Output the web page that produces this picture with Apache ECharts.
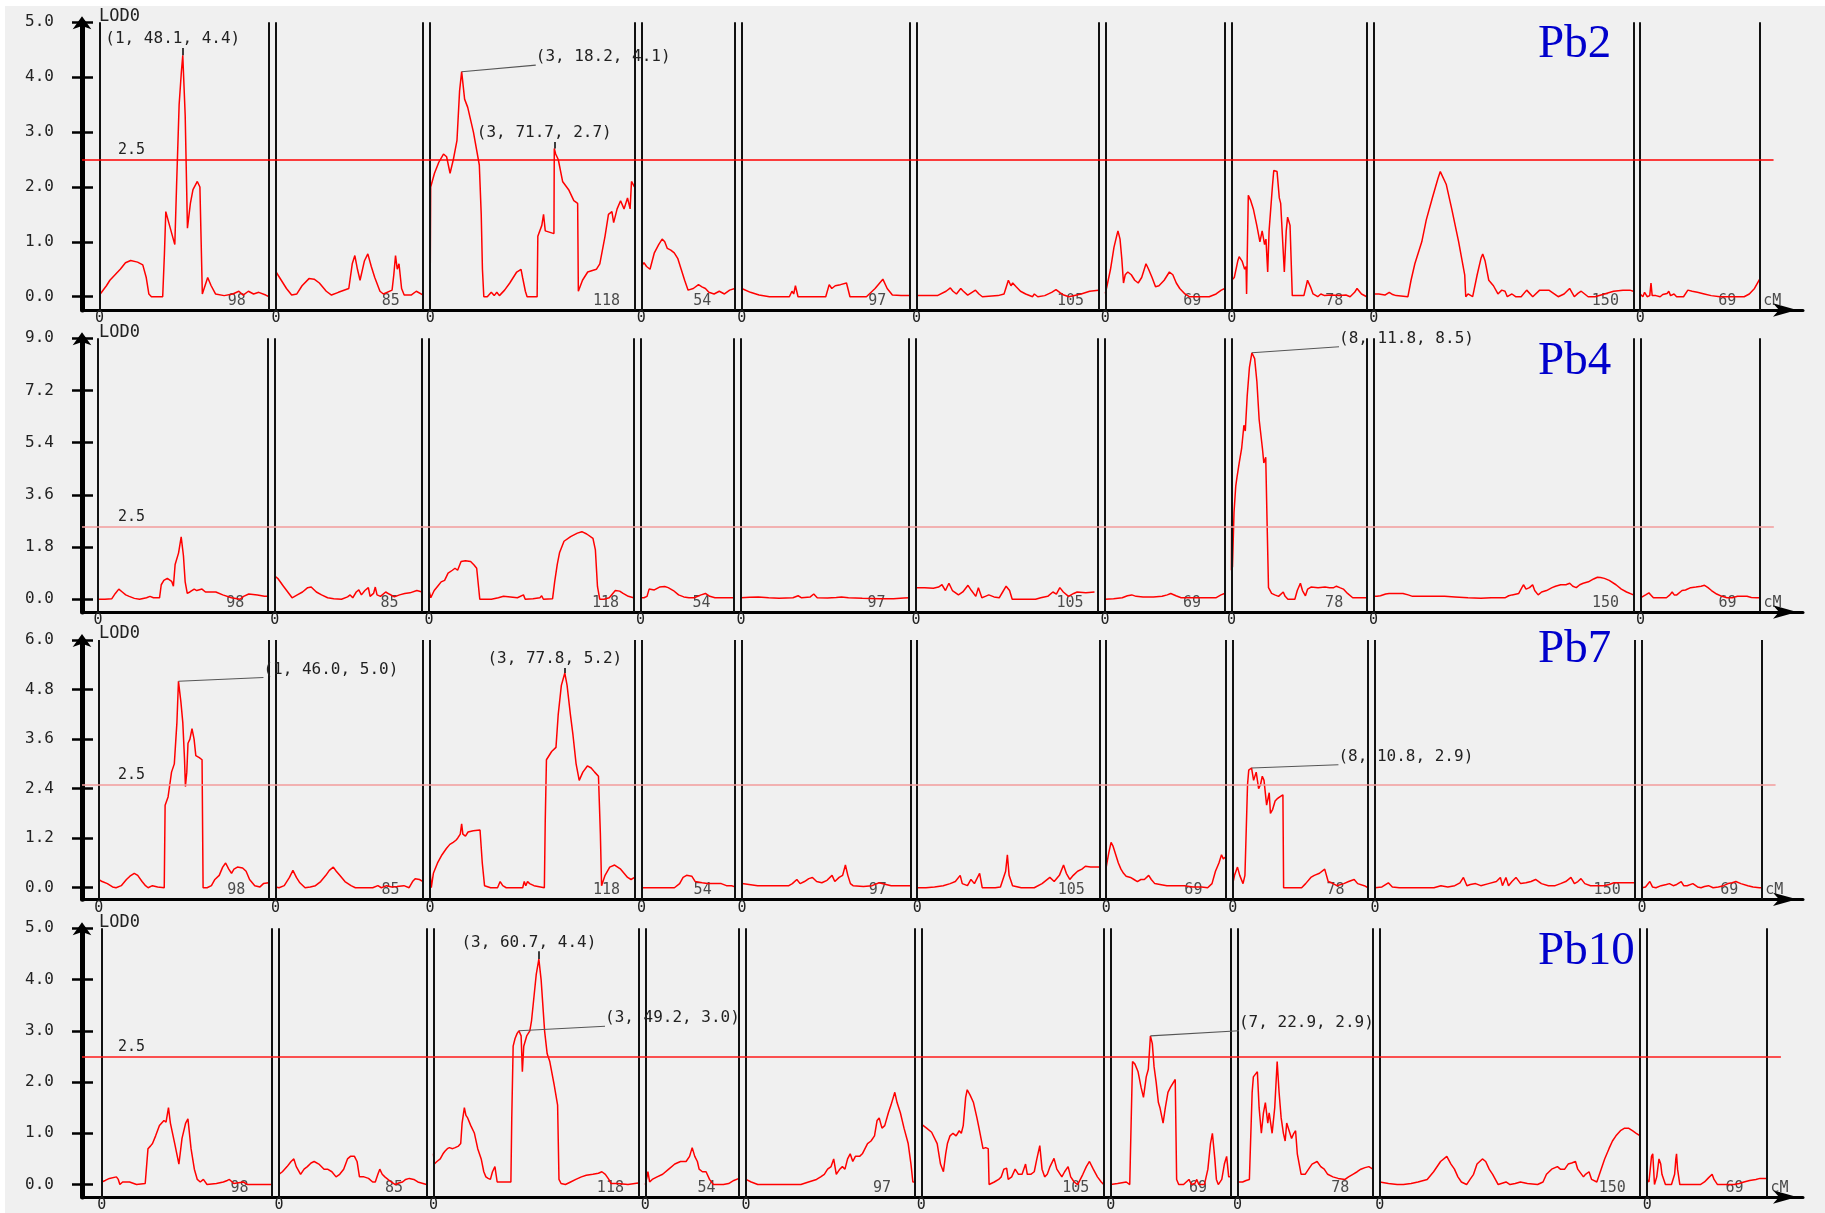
<!DOCTYPE html>
<html><head><meta charset="utf-8">
<script src="https://cdn.jsdelivr.net/npm/echarts@6/dist/echarts.min.js"></script>
<style>html,body{margin:0;padding:0;background:#fff}#c{width:1825px;height:1213px}</style>
</head><body><div id="c"></div>
<script>
// ---------------- DATA ----------------
const TRAITS = ['Pb2', 'Pb4', 'Pb7', 'Pb10'];
const CHR_LEN = [98, 85, 118, 54, 97, 105, 69, 78, 150, 69];
const Y_TICKS = [
  [0, 1, 2, 3, 4, 5],
  [0, 1.8, 3.6, 5.4, 7.2, 9],
  [0, 1.2, 2.4, 3.6, 4.8, 6],
  [0, 1, 2, 3, 4, 5]
];
const THRESHOLD = 2.5;

// LOD profiles: one array of [cM, LOD] per chromosome
const PB2_LOD = [
  [[0,0.03],[4,0.2],[6,0.3],[9,0.4],[12,0.5],[15,0.62],[18,0.66],[22,0.63],[25,0.58],[27,0.35],[28.5,0.05],[30,0],[36.5,0],[37.5,0.78],[38.3,1.55],[40,1.35],[43.5,0.95],[44.5,2.0],[46,3.5],[47.3,4.1],[48.1,4.4],[49.5,3.3],[50.8,1.25],[52.5,1.7],[54,1.95],[56.5,2.1],[58,2.0],[59.4,0.05],[60.5,0.05],[62.5,0.35],[64.5,0.2],[67,0.05],[72,0.02],[77,0.05],[80.5,0.1],[83,0.03],[86,0.1],[89,0.05],[92,0.08],[96,0.03],[98,0.0]],
  [[0,0.45],[3,0.3],[6,0.15],[9,0.03],[12,0.05],[15,0.2],[19,0.33],[22,0.32],[25,0.25],[29,0.1],[32,0.03],[36,0.08],[42,0.15],[44,0.6],[45.5,0.75],[47,0.5],[48.5,0.3],[51,0.65],[53,0.78],[55,0.55],[57,0.35],[60,0.1],[62,0.05],[67,0.12],[68,0.4],[69,0.75],[70,0.5],[71,0.6],[72.5,0.15],[74,0.03],[78,0.03],[81,0.1],[85,0.03]],
  [[0,0.1],[0.3,2.0],[2.5,2.25],[5,2.45],[7.7,2.6],[9.5,2.55],[11.5,2.25],[13.4,2.5],[15.5,2.85],[17,3.75],[18.2,4.1],[19.9,3.6],[21.7,3.45],[25,3.0],[28.4,2.4],[29.5,1.5],[30.2,0.5],[31,0.0],[33,0.0],[35.3,0.08],[37,0.02],[38.5,0.08],[40,0.02],[43,0.12],[46,0.25],[50,0.45],[52.5,0.5],[53.4,0.35],[55,0.1],[56,0.0],[61.8,0.0],[62.2,1.1],[64.5,1.3],[65.5,1.5],[66.5,1.2],[71.5,1.15],[71.7,2.7],[72.5,2.6],[74,2.5],[76.5,2.1],[80,1.95],[83,1.75],[85.2,1.7],[85.6,0.1],[88,0.3],[91,0.45],[96,0.5],[98,0.6],[101,1.1],[103,1.5],[105,1.55],[106,1.35],[108,1.6],[110,1.75],[112,1.6],[114,1.8],[115.5,1.6],[116.3,2.1],[118,2.0]],
  [[0,0.55],[1.5,0.62],[3,0.55],[5,0.5],[7.5,0.8],[10,0.95],[12,1.05],[13.5,1.0],[15,0.88],[17,0.85],[19,0.8],[21,0.7],[23,0.5],[25,0.3],[27,0.12],[30,0.15],[33,0.22],[35,0.18],[37,0.15],[39,0.08],[42,0.05],[45,0.1],[48,0.05],[51,0.12],[54,0.15]],
  [[0,0.15],[5,0.08],[10,0.03],[16,0.0],[27.5,0.0],[29,0.1],[30,0.05],[31,0.2],[32.5,0.0],[48.5,0.0],[50.5,0.22],[52,0.15],[54,0.2],[57,0.22],[60.5,0.25],[62.5,0.0],[72,0.0],[77,0.15],[81.5,0.32],[84,0.15],[87,0.03],[92,0.02],[97,0.02]],
  [[0,0.02],[12,0.02],[17,0.1],[19.5,0.16],[21,0.1],[23,0.05],[25.5,0.15],[27,0.1],[29.5,0.03],[32,0.08],[34,0.12],[36,0.05],[38,0.0],[47,0.02],[50.5,0.05],[52,0.2],[53,0.3],[54.5,0.2],[55.5,0.25],[57.5,0.18],[60,0.1],[63,0.05],[67,0.0],[68,0.05],[70,0.0],[74,0.02],[78,0.08],[80.5,0.13],[83,0.07],[85,0.03],[88,0.0],[95,0.05],[100,0.1],[105,0.12]],
  [[0,0.06],[1,0.2],[3,0.5],[5,0.9],[6.5,1.1],[7.3,1.2],[8.5,1.05],[9.5,0.7],[10.5,0.25],[11.5,0.4],[13,0.45],[15,0.4],[17,0.3],[19,0.25],[21,0.35],[23.5,0.6],[25,0.5],[27,0.35],[29,0.18],[31,0.2],[34,0.3],[37,0.45],[39,0.4],[41,0.25],[43,0.15],[46,0.05],[48.5,0.0],[60,0.0],[64,0.05],[67,0.12],[69,0.15]],
  [[0,0.3],[1.5,0.35],[3.5,0.65],[4.3,0.73],[6,0.65],[7.5,0.5],[8.3,0.55],[8.6,0.05],[9.6,1.85],[11,1.75],[12.5,1.6],[14.5,1.3],[16.3,1.0],[17.6,1.2],[19,0.95],[19.8,1.05],[20.8,0.45],[21.6,1.2],[23.5,2.0],[24.3,2.3],[26.2,2.28],[27.5,1.8],[28.3,1.7],[30.4,0.45],[31.5,1.2],[32.3,1.45],[33.7,1.3],[35,0.02],[41.7,0.02],[43.8,0.3],[45.5,0.18],[47,0.05],[49.7,0.0],[51.5,0.05],[53.7,0.02],[57.7,0.03],[62,0.02],[66,0.03],[68.4,0.0],[71,0.08],[72.4,0.15],[75,0.05],[78,0.0]],
  [[0,0.05],[3,0.05],[6.5,0.03],[9,0.08],[11,0.04],[13,0.02],[19.8,0.0],[21.6,0.3],[23.8,0.6],[27.8,1.0],[30.4,1.4],[33.9,1.8],[37.1,2.15],[38.5,2.28],[41.9,2.05],[45.1,1.6],[49.1,1.0],[52.6,0.4],[53.2,0.0],[54.5,0.05],[57.2,0.0],[59.8,0.4],[62,0.7],[63,0.78],[64.4,0.65],[66.5,0.3],[69.2,0.2],[71.8,0.05],[74,0.12],[75.9,0.1],[77.2,0.0],[79.9,0.05],[82,0.0],[85.2,0.0],[88.4,0.12],[91.9,0.0],[95.9,0.12],[101.2,0.12],[106.6,0.0],[110,0.05],[113.2,0.15],[115.9,0.0],[118,0.06],[119.9,0.1],[123.9,0.0],[127.9,0.0],[133.3,0.05],[138.6,0.1],[144,0.12],[148,0.12],[150,0.1]],
  [[0,0.05],[1.5,0.0],[2.5,0.08],[4,0.0],[5.5,0.02],[6.2,0.25],[6.9,0.02],[8,0.05],[9,0.02],[11.5,0.0],[13,0.04],[15.5,0.06],[16.5,0.1],[17.5,0.02],[19.5,0.05],[21,0.0],[25,0.0],[27.5,0.12],[30,0.1],[33,0.08],[37,0.05],[41,0.02],[46,0.0],[60,0.0],[63,0.05],[66,0.15],[69,0.32]]
];

const PB4_LOD = [
  [[0,0.0],[4,0.0],[8,0.02],[10,0.2],[12,0.35],[14,0.25],[16,0.15],[18,0.1],[21,0.03],[24,0.0],[28,0.05],[30,0.1],[32,0.05],[35.5,0.05],[36.5,0.5],[38,0.65],[40,0.72],[42.5,0.62],[43.5,0.45],[44.5,1.2],[46.5,1.6],[48,2.15],[49.3,1.5],[50.3,0.6],[51.5,0.2],[53,0.25],[55.5,0.35],[57,0.3],[60,0.35],[62,0.25],[65,0.25],[68,0.25],[72,0.15],[77,0.05],[82,0.0],[84,0.1],[87,0.18],[92,0.15],[96,0.1],[98,0.1]],
  [[0,0.8],[2,0.7],[5,0.45],[7.5,0.25],[10,0.05],[13,0.15],[16,0.25],[19,0.4],[21,0.42],[24,0.25],[27,0.15],[30.5,0.05],[34,0.02],[38.5,0.0],[42,0.08],[43.5,0.15],[45,0.05],[47,0.25],[48.5,0.32],[50,0.15],[52,0.3],[54,0.4],[55,0.1],[57,0.2],[58,0.42],[59,0.15],[61,0.1],[64,0.25],[66,0.18],[69,0.08],[72,0.15],[75,0.2],[78,0.22],[82,0.3],[85,0.25]],
  [[0,0.3],[1,0.05],[3,0.3],[5,0.45],[7,0.6],[9,0.65],[11,0.9],[12,0.85],[13.5,1.0],[15,1.07],[16.5,1.0],[18.5,1.3],[21,1.33],[24,1.3],[26,1.18],[27.5,1.07],[29.3,0.0],[36,0.0],[40,0.05],[43,0.1],[47,0.08],[51,0.05],[54.5,0.15],[55.5,0.0],[60,0.02],[64,0.05],[65,0.12],[66,0.0],[71.3,0.02],[72.5,0.6],[74,1.2],[75.3,1.6],[77.9,2.0],[81.7,2.16],[85.6,2.28],[88.2,2.33],[91,2.25],[94.6,2.1],[96,1.7],[97.2,0.44],[98.5,0.0],[101,0.0],[104,0.05],[107.5,0.3],[110,0.28],[112,0.2],[115,0.1],[118,0.05]],
  [[0,0.05],[2,0.05],[3.8,0.1],[5,0.35],[6,0.3],[8,0.32],[11,0.42],[14,0.44],[16,0.4],[19,0.3],[22,0.15],[25,0.08],[28,0.05],[31,0.05],[35,0.15],[37.5,0.2],[40,0.1],[43,0.05],[47,0.05],[51,0.05],[54,0.05]],
  [[0,0.05],[5,0.07],[10,0.08],[16,0.05],[22,0.03],[30,0.05],[33,0.12],[35,0.05],[40,0.08],[42,0.18],[44,0.05],[50,0.04],[55,0.06],[58,0.08],[62,0.05],[70,0.03],[80,0.02],[88,0.02],[94,0.04],[97,0.05]],
  [[0,0.4],[5,0.4],[10,0.38],[13,0.42],[15,0.5],[17,0.3],[19,0.55],[21,0.3],[24.5,0.15],[27,0.25],[30,0.48],[32,0.3],[34.5,0.1],[36,0.4],[38,0.05],[40,0.1],[42,0.15],[45,0.08],[48,0.05],[50,0.25],[52,0.45],[54,0.3],[55.5,0.0],[69,0.0],[72,0.05],[76,0.1],[79,0.25],[81,0.18],[83,0.4],[85,0.25],[88,0.1],[91,0.2],[93,0.25],[98,0.22],[103,0.25]],
  [[0,0.0],[5,0.02],[10,0.05],[13,0.12],[15.5,0.15],[18,0.1],[22,0.08],[28,0.08],[33,0.1],[36,0.15],[38,0.2],[41,0.12],[44,0.05],[50,0.05],[55,0.05],[60,0.05],[64,0.05],[67,0.15],[69,0.2]],
  [[0,1.0],[0.3,4.2],[0.6,1.1],[1.5,3.0],[2.5,3.9],[3.2,4.2],[4.5,4.7],[5.9,5.2],[7.2,6.0],[8,5.8],[9.1,7.0],[10.4,8.0],[11.8,8.5],[13.4,8.3],[14.7,7.5],[16,6.2],[17.9,5.2],[18.7,4.7],[19.8,4.9],[20.6,2.6],[21.4,0.4],[23.2,0.2],[25,0.15],[27.2,0.1],[29.9,0.25],[31,0.1],[32.6,0.0],[36.6,0.0],[38,0.3],[39.8,0.55],[41,0.3],[42.7,0.12],[44,0.35],[45.9,0.42],[50,0.4],[54,0.42],[56.6,0.4],[59,0.4],[60.6,0.45],[62.5,0.4],[64.6,0.35],[67,0.2],[70,0.05],[74,0.05],[78,0.05]],
  [[0,0.1],[2,0.1],[4,0.12],[7,0.18],[9,0.2],[13,0.2],[17,0.2],[20,0.15],[22.5,0.1],[30,0.1],[41,0.1],[47,0.08],[54.5,0.05],[62,0.03],[67.8,0.05],[72,0.05],[75.8,0.05],[78,0.12],[80,0.15],[83.8,0.2],[86.5,0.5],[88,0.35],[90,0.4],[91.8,0.5],[93,0.3],[95,0.15],[97,0.25],[99.8,0.3],[103,0.4],[105,0.45],[108,0.5],[111,0.5],[113.2,0.55],[115,0.45],[117,0.4],[119,0.5],[121,0.55],[124,0.6],[127,0.7],[129.2,0.76],[131,0.75],[133.2,0.72],[136,0.65],[139.9,0.5],[143,0.35],[146,0.25],[150,0.15]],
  [[0,0.05],[1,0.05],[3,0.15],[4.9,0.22],[6,0.15],[7.5,0.05],[11,0.05],[15,0.05],[17,0.15],[18.3,0.25],[19.5,0.15],[21,0.15],[24,0.3],[26,0.32],[29,0.4],[32,0.42],[35,0.45],[37,0.48],[39,0.4],[41,0.3],[44,0.18],[47,0.1],[50,0.05],[53,0.05],[56,0.1],[59,0.1],[61.5,0.1],[64,0.06],[67,0.05],[69,0.05]]
];

const PB7_LOD = [
  [[0,0.2],[2,0.15],[5,0.1],[8,0.02],[10,0.0],[13,0.05],[16,0.2],[18,0.28],[20.5,0.35],[22.5,0.3],[25,0.15],[27,0.05],[28.5,0.0],[31,0.05],[34,0.02],[37.8,0.0],[38.3,2.0],[40,2.2],[41,2.5],[42,2.8],[43.6,3.0],[44.5,3.6],[45.1,4.0],[46,5.0],[47.4,4.5],[48.5,4.0],[49.5,3.1],[50,2.45],[50.8,2.8],[51.5,3.5],[52.6,3.6],[53.8,3.85],[55,3.6],[56,3.2],[58,3.15],[59.6,3.1],[60.2,0.0],[62.5,0.0],[65,0.05],[67,0.2],[69.5,0.3],[71.5,0.5],[73.2,0.6],[75,0.45],[76.6,0.35],[78,0.45],[80,0.5],[83,0.48],[85,0.4],[87,0.2],[90,0.05],[93,0.02],[95,0.1],[98,0.12]],
  [[0,0.02],[2,0.0],[5,0.05],[8,0.25],[10,0.42],[12,0.25],[14,0.12],[17,0.0],[20,0.02],[23,0.05],[26,0.15],[29,0.3],[31,0.42],[33.3,0.5],[35,0.4],[37,0.3],[40,0.15],[43.5,0.05],[46,0.0],[56,0.0],[59,0.05],[61,0.0],[64,0.05],[67,0.02],[70,0.03],[74,0.05],[77,0.0],[79,0.15],[80.5,0.22],[83,0.2],[85,0.15]],
  [[0,0.45],[0.8,0.0],[2,0.35],[4.4,0.6],[7,0.8],[9.5,0.95],[11.5,1.05],[13.4,1.1],[15,1.15],[16,1.2],[17.5,1.3],[18.3,1.55],[19,1.3],[20.5,1.25],[22,1.35],[25,1.38],[28.9,1.4],[30.2,0.6],[31.5,0.05],[35,0.0],[39,0.0],[40.5,0.15],[42,0.05],[44,0.0],[53.5,0.0],[54.4,0.15],[55.3,0.05],[56.3,0.15],[57.5,0.1],[60,0.05],[66,0.0],[66.5,1.6],[67.2,3.1],[70.2,3.3],[72.7,3.4],[74,4.2],[75.8,4.9],[77.8,5.2],[79.1,4.9],[81,4.2],[82.5,3.7],[84.3,3.0],[86.1,2.6],[88.2,2.8],[90.8,2.95],[93,2.9],[95,2.8],[97.2,2.7],[98.3,1.3],[99,0.05],[101,0.3],[103.7,0.5],[106.5,0.55],[110,0.45],[114,0.25],[116,0.2],[118,0.25]],
  [[0,0.0],[5,0.0],[10,0.0],[15,0.0],[19,0.0],[22,0.1],[24,0.25],[26,0.3],[29,0.28],[31,0.15],[35,0.12],[38,0.1],[42,0.1],[46,0.1],[49,0.05],[52,0.05],[54,0.02]],
  [[0,0.1],[4,0.08],[9,0.05],[18,0.05],[27,0.05],[29,0.1],[31.6,0.2],[33.5,0.1],[36,0.15],[38.5,0.22],[40.6,0.25],[43,0.15],[46,0.12],[49,0.18],[51.9,0.3],[53.5,0.15],[56,0.25],[58,0.3],[59.6,0.55],[61,0.3],[62.5,0.1],[64,0.05],[70,0.03],[75,0.05],[79,0.12],[83,0.08],[86,0.05],[91,0.05],[97,0.05]],
  [[0,0.0],[5,0.0],[10,0.02],[15,0.05],[19,0.1],[22,0.15],[24.8,0.3],[26,0.1],[29,0.05],[31,0.2],[33,0.1],[36,0.35],[37.5,0.0],[45,0.0],[48,0.02],[51,0.4],[52,0.8],[53,0.3],[55,0.05],[60,0.0],[67.5,0.0],[72,0.1],[76.5,0.25],[79,0.15],[82,0.3],[84.4,0.55],[86,0.35],[88,0.2],[90,0.3],[92.5,0.4],[95,0.45],[97,0.52],[100,0.5],[103,0.5],[105,0.5]],
  [[0,0.5],[1.5,0.85],[2.8,1.1],[4,1.0],[5.5,0.8],[7,0.6],[8.5,0.45],[10,0.35],[11.5,0.28],[14,0.25],[16,0.2],[18,0.15],[20,0.2],[22,0.2],[24.5,0.3],[26,0.2],[28,0.1],[31,0.08],[35,0.05],[40,0.05],[45,0.05],[50,0.02],[55,0.02],[58.5,0.0],[61,0.1],[63,0.4],[65,0.6],[66.5,0.8],[67.5,0.7],[69,0.75]],
  [[0,0.1],[1,0.3],[2.7,0.5],[4,0.3],[5.9,0.1],[7,0.3],[8.5,2.5],[9.2,2.85],[10.8,2.9],[12,2.6],[13.5,2.8],[14.9,2.4],[16,2.5],[17,2.7],[18,2.6],[19.5,2.0],[21,2.3],[21.7,1.8],[23,1.9],[24.4,2.1],[25.5,2.15],[27.1,2.2],[28.9,2.25],[29.3,0.0],[36,0.0],[39.7,0.0],[42,0.1],[45,0.25],[47,0.3],[50,0.35],[53,0.45],[55,0.15],[57,0.12],[60,0.05],[64,0.1],[66.8,0.15],[70,0.2],[72,0.1],[75.8,0.05],[78,0.0]],
  [[0,0.0],[4,0.02],[7.7,0.12],[10,0.02],[14,0.0],[20,0.0],[30,0.0],[34,0.0],[38,0.05],[42,0.02],[46,0.05],[49,0.12],[51,0.25],[53,0.05],[55,0.08],[58,0.1],[61,0.05],[65.5,0.1],[70,0.15],[72.3,0.25],[73.5,0.05],[75.5,0.25],[77,0.05],[79,0.15],[81.3,0.25],[84,0.1],[87,0.12],[90,0.15],[92.6,0.2],[96,0.1],[100,0.05],[103.9,0.05],[107,0.1],[110,0.15],[113,0.25],[115,0.1],[117,0.15],[118.8,0.22],[121,0.1],[124.3,0.05],[128,0.05],[132,0.05],[135,0.08],[137.8,0.12],[142,0.12],[146,0.12],[150,0.12]],
  [[0,0.0],[2,0.02],[4.5,0.15],[6,0.02],[8,0.0],[11,0.05],[14,0.08],[15.8,0.1],[18,0.05],[20,0.08],[22.6,0.15],[24,0.05],[26,0.05],[29.3,0.1],[32,0.02],[34,0.0],[36,0.03],[38.3,0.05],[41,0.0],[44,0.02],[47,0.05],[49.6,0.1],[52,0.12],[54.1,0.15],[57,0.1],[61,0.05],[64,0.02],[67.7,0.0],[69,0.0]]
];

const PB10_LOD = [
  [[0,0.05],[2,0.08],[4.4,0.12],[8.4,0.15],[9.5,0.1],[10.4,0.0],[12,0.05],[16,0.05],[20,0.0],[25,0.02],[25.8,0.05],[26.6,0.7],[28,0.75],[29.2,0.8],[31,0.95],[33.2,1.15],[35.8,1.25],[37,1.22],[38.4,1.5],[39.5,1.2],[42,0.8],[44.4,0.4],[46.2,0.9],[48.3,1.2],[49.6,1.28],[51.4,0.7],[53.3,0.3],[55,0.1],[56.7,0.05],[58.5,0.1],[60.6,0.0],[66,0.02],[70,0.05],[72.3,0.08],[73.5,0.1],[76,0.02],[81.5,0.05],[84,0.0],[90,0.0],[98,0.0]],
  [[0,0.2],[2,0.25],[4.7,0.35],[7,0.45],[8.6,0.5],[10,0.35],[12.5,0.2],[14.5,0.3],[16.4,0.35],[18.5,0.42],[20.3,0.45],[23,0.4],[26,0.3],[28,0.3],[30.5,0.25],[32.9,0.15],[35,0.2],[37.3,0.3],[39.5,0.5],[41.2,0.55],[43.5,0.55],[45,0.45],[46.4,0.15],[49,0.15],[51.6,0.12],[54,0.05],[55.5,0.05],[57,0.2],[58.1,0.3],[59.5,0.2],[61,0.15],[64.7,0.05],[67,0.0],[69,0.03],[71.2,0.05],[73,0.1],[75.1,0.12],[77.7,0.1],[80,0.05],[82,0.03],[85,0.0]],
  [[0,0.6],[0.5,0.4],[2,0.45],[3.9,0.5],[5.5,0.6],[6.6,0.65],[8,0.7],[9.2,0.72],[11,0.7],[12.5,0.72],[14.4,0.75],[15.7,0.8],[16.5,1.2],[17.8,1.5],[18.7,1.35],[19.7,1.3],[21.5,1.15],[23.6,1.0],[25.5,0.7],[27.5,0.5],[29,0.25],[30.2,0.15],[31.5,0.12],[32.8,0.1],[34,0.25],[35.4,0.35],[36.7,0.05],[40,0.05],[44.6,0.05],[45.1,1.3],[45.9,2.7],[47,2.85],[48.2,2.95],[49.2,3.0],[50.5,2.9],[51.2,2.2],[52,2.7],[53.7,2.9],[55.5,3.0],[56.5,3.2],[57.7,3.6],[59.2,4.1],[60.7,4.4],[62,4.0],[63,3.5],[64,3.0],[65.5,2.55],[67,2.4],[69.5,1.95],[71.5,1.55],[72.3,0.1],[73.5,0.02],[76,0.0],[79,0.05],[82,0.1],[85.2,0.15],[88,0.18],[91.8,0.2],[95,0.22],[97,0.25],[99,0.2],[101,0.1],[102.3,0.02],[106,0.02],[112,0.0],[118,0.03]],
  [[0,0.0],[1,0.15],[1.5,0.25],[2.5,0.05],[4,0.1],[6.8,0.15],[10,0.2],[13.5,0.3],[17,0.4],[20.3,0.45],[23.5,0.45],[25.5,0.55],[27,0.72],[28.5,0.55],[30,0.45],[31,0.3],[32.9,0.25],[35,0.25],[37,0.1],[39.2,0.0],[45,0.0],[48,0.02],[51,0.08],[54,0.12]],
  [[0,0.1],[3,0.05],[6.8,0.0],[15,0.0],[25,0.0],[31.6,0.0],[36,0.05],[40.6,0.1],[43,0.15],[45.1,0.2],[47,0.3],[49,0.35],[50.5,0.5],[52,0.2],[54,0.3],[55.5,0.35],[57,0.3],[58.5,0.5],[60,0.6],[61.5,0.45],[63,0.55],[65.4,0.55],[67,0.6],[70,0.8],[72,0.85],[74,0.95],[75.5,1.25],[76.7,1.3],[78.3,1.1],[79.9,1.15],[82,1.4],[83.5,1.55],[85.7,1.8],[87,1.6],[88.9,1.4],[91,1.1],[93.4,0.8],[95,0.4],[96.1,0.05],[97,0.05]],
  [[0,1.18],[3,1.1],[5.9,1.02],[9.1,0.8],[11,0.4],[12.7,0.25],[14,0.6],[15,0.8],[16.5,0.95],[18.2,1.0],[20,0.95],[21.8,1.05],[23,1.0],[24.1,1.15],[25.5,1.7],[26.4,1.85],[28,1.75],[30,1.6],[32,1.3],[33.2,1.1],[35.5,0.7],[37,0.72],[38.5,0.7],[39,0.0],[42,0.05],[44.5,0.1],[46,0.15],[47.5,0.3],[49.1,0.32],[50,0.1],[52,0.15],[54,0.3],[55.9,0.2],[58,0.2],[60,0.4],[61,0.2],[63,0.2],[65,0.25],[66.5,0.5],[68.2,0.76],[69.5,0.3],[71,0.15],[72.5,0.2],[74.1,0.35],[76.4,0.51],[78,0.3],[80.9,0.15],[82.5,0.25],[84.5,0.35],[86,0.15],[88,0.05],[90,0.0],[93,0.2],[95,0.35],[96.8,0.45],[99,0.3],[101.4,0.15],[103.6,0.05],[105,0.0]],
  [[0,0.0],[4,0.02],[9,0.05],[11,0.0],[12,0.0],[12.6,2.4],[14,2.35],[15.8,2.2],[17.5,1.9],[18.9,1.7],[20.5,2.1],[21.7,2.25],[22.9,2.9],[24,2.75],[25,2.3],[26.2,2.0],[27.5,1.6],[28.4,1.5],[30.2,1.2],[31.5,1.5],[33,1.8],[34.5,1.9],[37.2,2.05],[38,0.1],[39.2,0.0],[42,0.0],[45.1,0.1],[46.5,0.0],[48.5,0.02],[49.6,0.1],[50.8,0.0],[54,0.0],[56,0.3],[57.5,0.8],[58.6,1.0],[60,0.5],[60.9,0.1],[62,0.0],[64,0.1],[65.5,0.4],[66.8,0.55],[68,0.15],[69,0.15]],
  [[0,0.05],[3,0.05],[5,0.08],[6.9,0.1],[8.5,1.8],[9.2,2.1],[10.3,2.15],[11.5,2.2],[12.5,1.5],[13.8,1.0],[15,1.4],[16.1,1.6],[17.5,1.2],[18.3,1.4],[20,1.0],[21.5,1.5],[22.9,2.4],[24,1.8],[25.2,1.3],[26.5,1.0],[27.5,0.85],[28.4,1.2],[29.8,1.05],[31.2,0.9],[32.5,1.0],[33.5,1.05],[34.5,0.6],[36.7,0.2],[39,0.2],[41,0.3],[43,0.4],[45.9,0.45],[48,0.35],[50,0.3],[52,0.2],[55,0.15],[58,0.12],[62,0.1],[64,0.15],[66.5,0.2],[69,0.25],[71.1,0.3],[73.5,0.33],[75.7,0.35],[78,0.3]],
  [[0,0.05],[5,0.02],[10,0.0],[13.6,0.0],[18,0.02],[22,0.05],[27.3,0.1],[31,0.25],[35,0.45],[38.6,0.55],[41,0.4],[43,0.3],[45,0.15],[47,0.05],[50,0.0],[52,0.1],[54,0.2],[56,0.4],[59.1,0.5],[61,0.45],[63,0.3],[65,0.2],[68.2,0.0],[70,0.02],[72.7,0.05],[75,0.0],[78,0.02],[81,0.05],[85,0.02],[90.9,0.0],[94,0.05],[96,0.2],[99,0.3],[102.3,0.35],[104,0.3],[106.5,0.3],[108.5,0.4],[110.5,0.42],[112.7,0.45],[114,0.3],[117.3,0.15],[118.5,0.2],[120.5,0.25],[122,0.1],[125,0.05],[127,0.25],[129.5,0.5],[132,0.7],[134,0.85],[136,0.95],[138.6,1.05],[141,1.1],[143.2,1.1],[145.5,1.05],[147.7,1.0],[150,0.95]],
  [[0,0.1],[1,0.05],[2.5,0.55],[3.2,0.6],[4.2,0.0],[5.5,0.15],[6.8,0.5],[7.8,0.4],[8.5,0.2],[10.5,0.0],[14,0.0],[15.8,0.2],[16.5,0.5],[16.9,0.6],[17.5,0.3],[18.8,0.0],[25,0.0],[30.6,0.0],[33,0.05],[35,0.12],[37.4,0.2],[38.5,0.1],[40.5,0.0],[45,0.0],[50,0.0],[53,0.02],[55.7,0.05],[59,0.08],[62.6,0.1],[65,0.12],[67.1,0.12],[69,0.12]]
];
const LOD_DATA = [PB2_LOD, PB4_LOD, PB7_LOD, PB10_LOD];

// Annotated peaks: [trait index, chromosome, position cM, LOD]
const PEAKS = [
  [0, 1, 48.1, 4.4], [0, 3, 18.2, 4.1], [0, 3, 71.7, 2.7],
  [1, 8, 11.8, 8.5],
  [2, 1, 46.0, 5.0], [2, 3, 77.8, 5.2], [2, 8, 10.8, 2.9],
  [3, 3, 60.7, 4.4], [3, 3, 49.2, 3.0], [3, 7, 22.9, 2.9]
];

// ---------------- LAYOUT (positions / styles) ----------------
const GAP_CM = 4;
const GRID_LEFT = 82, AXIS_END_PX = 1803;
const PANEL_TOP = [22.3, 338.3, 640, 928.3];
const PANEL_BOTTOM = [310, 612, 899.3, 1202.7];
const Y_MIN = [-0.242, -0.44, -0.28, -0.243];
const CHR_START_PX = [99.5, 98, 98.7, 101.8];
const CHR_END_PX = [1759.7, 1760, 1761.7, 1767];
const THRESH_EXTRA_CM = 8;
// label anchor (leader-line end) for each peak, in chromosome-relative cM and LOD
const LEADER_END = [[48.1,4.53],[61.0,4.22],[71.7,2.82],[62.1,8.71],[95,5.09],[77.8,5.32],[60.9,2.98],[60.7,4.55],[98.8,3.09],[73.9,3.0]];
const THRESH_COLOR = ['#ff0000', '#f39c9c', '#f39c9c', '#ff1a1a'];
const TITLE_Y = [45, 362, 650, 952];
const TXT = '#222222';
const MONO = "'DejaVu Sans Mono', monospace";

const offs = []; let acc = 0;
CHR_LEN.forEach(l => { offs.push(acc); acc += l + GAP_CM; });
const totalCM = offs[offs.length - 1] + CHR_LEN[CHR_LEN.length - 1];

const grid = [], xAxis = [], yAxis = [], series = [];
const graphic = [
  {type: 'rect', shape: {x: 0, y: 0, width: 1825, height: 6}, style: {fill: '#ffffff'}, z: 100},
  {type: 'rect', shape: {x: 0, y: 0, width: 5, height: 1213}, style: {fill: '#ffffff'}, z: 100}
];

TRAITS.forEach((name, p) => {
  const k = (CHR_END_PX[p] - CHR_START_PX[p]) / totalCM;
  const xmin = -(CHR_START_PX[p] - GRID_LEFT) / k;
  const xmax = xmin + (AXIS_END_PX - GRID_LEFT) / k;
  const ymin = Y_MIN[p];
  const ymax = Y_TICKS[p][Y_TICKS[p].length - 1];

  grid.push({left: GRID_LEFT, top: PANEL_TOP[p], width: AXIS_END_PX - GRID_LEFT,
             height: PANEL_BOTTOM[p] - PANEL_TOP[p], containLabel: false});

  xAxis.push({
    type: 'value', gridIndex: p, min: xmin, max: xmax,
    splitLine: {show: false},
    axisLine: {onZero: false, lineStyle: {color: '#000', width: 3},
               symbol: ['none', 'arrow'], symbolSize: [10, 24], symbolOffset: [0, -6]},
    axisTick: {show: false},
    axisLabel: {customValues: offs, formatter: () => '0', margin: 1, color: TXT,
                fontFamily: MONO, fontSize: 15}
  });

  yAxis.push({
    type: 'value', gridIndex: p, min: ymin, max: ymax, position: 'left',
    splitLine: {show: false},
    axisLine: {onZero: false, lineStyle: {color: '#000', width: 5},
               symbol: ['none', 'arrow'], symbolSize: [14, 13], symbolOffset: [0, 6]},
    axisTick: {show: true, customValues: Y_TICKS[p], length: 10, lineStyle: {color: '#000', width: 2.5}},
    axisLabel: {customValues: Y_TICKS[p], formatter: v => v.toFixed(1), margin: 28,
                color: TXT, fontFamily: MONO, fontSize: 16},
    name: 'LOD0', nameLocation: 'end', nameGap: 6,
    nameTextStyle: {align: 'left', verticalAlign: 'middle', padding: [0, 0, 0, 17],
                    color: TXT, fontFamily: MONO, fontSize: 17}
  });
  yAxis.push({
    type: 'value', gridIndex: p, min: ymin, max: ymax, position: 'left',
    splitLine: {show: false},
    axisLine: {show: false, onZero: false},
    axisTick: {show: true, inside: true, customValues: Y_TICKS[p], length: 11,
               lineStyle: {color: '#000', width: 2.5}},
    axisLabel: {show: false}
  });

  // LOD curves, one line per chromosome
  LOD_DATA[p].forEach((chr, c) => {
    series.push({
      type: 'line', xAxisIndex: p, yAxisIndex: 2 * p,
      data: chr.map(d => [offs[c] + d[0], d[1]]),
      symbol: 'none', showSymbol: false, silent: true, animation: false,
      lineStyle: {color: '#ff0000', width: 1.5}, z: 4
    });
  });

  // markLines: chromosome borders, threshold, peak leaders
  const ml = [];
  offs.forEach((o, c) => {
    ml.push({xAxis: o, lineStyle: {color: '#111', width: 2, type: 'solid'}, label: {show: false}});
    ml.push({xAxis: o + CHR_LEN[c], lineStyle: {color: '#111', width: 2, type: 'solid'}, label: {show: false}});
  });
  ml.push([
    {coord: [xmin, THRESHOLD], lineStyle: {color: THRESH_COLOR[p], width: 1.5, type: 'solid'},
     label: {show: true, position: 'insideStartTop', formatter: THRESHOLD.toFixed(1),
             distance: [36, 2], color: TXT, fontFamily: MONO, fontSize: 15}},
    {coord: [totalCM + THRESH_EXTRA_CM, THRESHOLD]}
  ]);
  PEAKS.forEach((pk, i) => {
    if (pk[0] !== p) return;
    const c = pk[1] - 1;
    const end = LEADER_END[i];
    const vertical = end[0] === pk[2];
    const text = '(' + pk[1] + ', ' + pk[2].toFixed(1) + ', ' + pk[3].toFixed(1) + ')';
    ml.push([
      {coord: [offs[c] + pk[2], pk[3]],
       lineStyle: {color: vertical ? '#111' : '#555', width: vertical ? 1.6 : 1.1, type: 'solid'}},
      {coord: [offs[c] + end[0], end[1]],
       label: vertical
         ? {show: true, position: 'end', formatter: text, distance: 1, align: 'center',
            verticalAlign: 'bottom', padding: [0, 20, 0, 0], color: TXT, fontFamily: MONO, fontSize: 16}
         : {show: true, position: 'end', formatter: text, distance: 0, align: 'left',
            verticalAlign: 'bottom', color: TXT, fontFamily: MONO, fontSize: 16}}
    ]);
  });

  // chromosome-length labels + unit label
  const lenData = CHR_LEN.map((l, c) => ({value: [offs[c] + l, ymin], label: {formatter: String(l)}}));
  lenData.push({value: [offs[9] + CHR_LEN[9], ymin], label: {formatter: 'cM', position: [4, -16]}});
  series.push({
    type: 'scatter', xAxisIndex: p, yAxisIndex: 2 * p, silent: true, animation: false,
    symbolSize: 1, itemStyle: {color: 'rgba(0,0,0,0)'}, clip: false,
    label: {show: true, position: [-41, -16], align: 'left', verticalAlign: 'top',
            color: TXT, fontFamily: MONO, fontSize: 15},
    data: lenData,
    markLine: {symbol: ['none', 'none'], silent: true, animation: false,
               label: {show: false}, emphasis: {disabled: true}, data: ml},
    z: 3
  });

  graphic.push({type: 'text', x: 1538, y: TITLE_Y[p], z: 50,
    style: {text: name, fill: '#0000cc', fontFamily: "'Liberation Serif', serif",
            fontSize: 47, verticalAlign: 'middle', align: 'left'}});
});

const chart = echarts.init(document.getElementById('c'), null, {renderer: 'canvas'});
chart.setOption({
  backgroundColor: '#f0f0f0',
  animation: false,
  grid, xAxis, yAxis, series, graphic
});
</script></body></html>
